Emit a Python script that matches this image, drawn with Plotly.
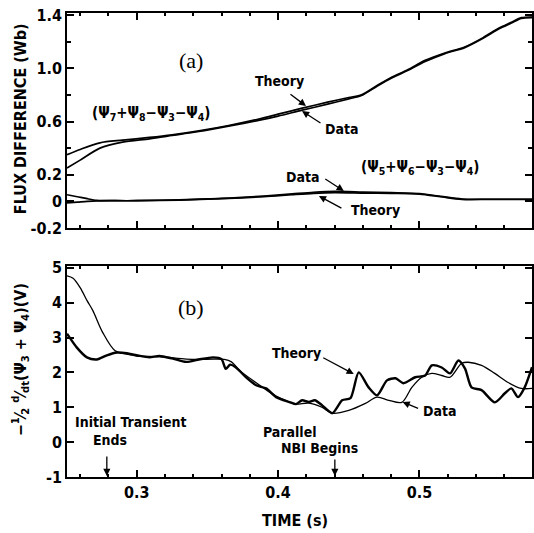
import plotly.graph_objects as go

# ---------------- data ----------------
# panel (a): (Psi7+Psi8-Psi3-Psi4)
t_a = [0.2507, 0.26, 0.274, 0.29, 0.309, 0.325, 0.344, 0.365, 0.387, 0.40, 0.417,
       0.435, 0.45, 0.459, 0.47, 0.480, 0.492, 0.504, 0.518, 0.532, 0.545, 0.556,
       0.565, 0.572, 0.5796]
theory_a = [0.35, 0.39, 0.44, 0.46, 0.48, 0.50, 0.53, 0.57, 0.62, 0.655, 0.70,
            0.745, 0.78, 0.80, 0.87, 0.93, 0.99, 1.06, 1.115, 1.16, 1.23, 1.30,
            1.345, 1.38, 1.385]
data_a = [0.25, 0.31, 0.40, 0.445, 0.47, 0.495, 0.525, 0.565, 0.61, 0.64, 0.685,
          0.73, 0.77, 0.795, 0.865, 0.925, 0.985, 1.05, 1.11, 1.155, 1.225, 1.295,
          1.34, 1.375, 1.38]

# panel (a): (Psi5+Psi6-Psi3-Psi4)
t_b = [0.2507, 0.258, 0.265, 0.272, 0.285, 0.30, 0.33, 0.36, 0.39, 0.41, 0.425,
       0.44, 0.46, 0.48, 0.50, 0.515, 0.53, 0.55, 0.5796]
theory_b = [-0.012, -0.006, 0.0, 0.004, 0.005, 0.005, 0.01, 0.02, 0.035, 0.05, 0.06,
            0.065, 0.062, 0.06, 0.055, 0.035, 0.015, 0.015, 0.015]
data_b = [0.05, 0.035, 0.02, 0.008, 0.005, 0.005, 0.012, 0.022, 0.04, 0.056, 0.068,
          0.075, 0.07, 0.065, 0.058, 0.038, 0.018, 0.016, 0.016]

# panel (b): -1/2 d/dt (Psi3+Psi4)
t_th = [0.2507, 0.2577, 0.2648, 0.2718, 0.2789, 0.286, 0.293, 0.300, 0.309, 0.316,
        0.325, 0.335, 0.344, 0.354, 0.360, 0.363, 0.366, 0.370, 0.377, 0.3845,
        0.3915, 0.3986, 0.408, 0.4127, 0.417, 0.4218, 0.426, 0.431, 0.4383,
        0.4453, 0.4512, 0.457, 0.464, 0.470, 0.477, 0.483, 0.4887, 0.497, 0.504,
        0.5087, 0.5157, 0.5216, 0.5275, 0.5322, 0.5368, 0.5439, 0.5533, 0.5604,
        0.565, 0.5697, 0.5744, 0.5796]
v_th = [3.11, 2.71, 2.43, 2.37, 2.49, 2.57, 2.55, 2.49, 2.43, 2.47,
        2.40, 2.30, 2.37, 2.43, 2.38, 2.1, 2.22, 2.15, 1.87, 1.63,
        1.54, 1.29, 1.15, 1.09, 1.2, 1.15, 1.2, 1.06, 0.83,
        1.2, 1.26, 2.0, 1.57, 1.34, 1.77, 1.83, 1.69, 1.86, 1.91,
        2.2, 2.14, 1.97, 2.34, 2.11, 1.57, 1.49, 1.14, 1.40,
        1.54, 1.29, 1.57, 2.15]

t_d = [0.2507, 0.255, 0.26, 0.265, 0.269, 0.276, 0.2845, 0.293, 0.300, 0.316,
       0.335, 0.344, 0.354, 0.362, 0.367, 0.373, 0.3845, 0.3915, 0.3986, 0.408,
       0.4127, 0.4218, 0.431, 0.4383, 0.450, 0.4617, 0.470, 0.4782, 0.4875,
       0.4946, 0.5016, 0.5087, 0.5157, 0.5216, 0.5298, 0.5345, 0.5439, 0.5533,
       0.5627, 0.572, 0.5796]
v_d = [4.77, 4.7, 4.43, 4.05, 3.77, 3.14, 2.63, 2.52, 2.47, 2.45,
       2.38, 2.37, 2.38, 2.37, 2.3, 2.05, 1.7, 1.5, 1.32, 1.15,
       1.09, 1.12, 1.0, 0.83, 0.91, 1.11, 1.29, 1.2, 1.14,
       1.57, 1.86, 1.97, 1.91, 1.86, 2.26, 2.29, 2.2, 1.97,
       1.71, 1.54, 1.54]

x_ticks = [0.3, 0.4, 0.5]
x_ticktext = ["0.3", "0.4", "0.5"]
ya_ticks = [-0.2, 0, 0.2, 0.6, 1.0, 1.4]
ya_ticktext = ["-0.2", "0", "0.2", "0.6", "1.0", "1.4"]
yb_ticks = [-1, 0, 1, 2, 3, 4, 5]
yb_ticktext = ["-1", "0", "1", "2", "3", "4", "5"]

# ---------------- figure ----------------
W, H = 534, 533
L, R, T, B = 67, 0, 13, 56
PW, PH = W - L - R, H - T - B
FONT = "DejaVu Sans Condensed, DejaVu Sans, sans-serif"


def P(px, py):
    return (px - L) / PW, (H - B - py) / PH


fig = go.Figure()
line_kw = dict(mode="lines", line_shape="spline", showlegend=False, hoverinfo="skip")
fig.add_trace(go.Scatter(x=t_a, y=theory_a, xaxis="x2", yaxis="y2",
                         line=dict(color="black", width=1.7, smoothing=0.8), **line_kw))
fig.add_trace(go.Scatter(x=t_a, y=data_a, xaxis="x2", yaxis="y2",
                         line=dict(color="black", width=1.7, smoothing=0.8), **line_kw))
fig.add_trace(go.Scatter(x=t_b, y=theory_b, xaxis="x2", yaxis="y2",
                         line=dict(color="black", width=1.7, smoothing=0.8), **line_kw))
fig.add_trace(go.Scatter(x=t_b, y=data_b, xaxis="x2", yaxis="y2",
                         line=dict(color="black", width=1.7, smoothing=0.8), **line_kw))
fig.add_trace(go.Scatter(x=t_d, y=v_d, xaxis="x", yaxis="y",
                         line=dict(color="black", width=1.3, smoothing=0.9), **line_kw))
fig.add_trace(go.Scatter(x=t_th, y=v_th, xaxis="x", yaxis="y",
                         line=dict(color="black", width=2.4, smoothing=0.7), **line_kw))

xr = [0.3 + (L - 137) / 1420, 0.3 + (W - R - 137) / 1420]
ax_common = dict(showline=True, linecolor="black", linewidth=1.6, mirror="ticks",
                 ticks="inside", ticklen=7, tickwidth=1.5, tickcolor="black",
                 showgrid=False, zeroline=False,
                 tickfont=dict(family=FONT, size=16, color="black", weight="bold"))
top_dom = [(H - B - 228) / PH, 1.0]
bot_dom = [0.0, (H - B - 266) / PH]

fig.update_layout(
    width=W, height=H, margin=dict(l=L, r=R, t=T, b=B),
    paper_bgcolor="white", plot_bgcolor="white",
    xaxis=dict(domain=[0, 1], range=xr, tickvals=x_ticks, ticktext=x_ticktext,
               minor=dict(tick0=0.3, dtick=0.02, ticklen=3, ticks="inside",
                          tickcolor="black"), anchor="y", **ax_common),
    yaxis=dict(domain=bot_dom, range=[-1, 5.05], tickvals=yb_ticks,
               ticktext=yb_ticktext, anchor="x", **ax_common),
    xaxis2=dict(domain=[0, 1], range=xr, tickvals=x_ticks, showticklabels=False,
                minor=dict(tick0=0.3, dtick=0.02, ticklen=3, ticks="inside",
                           tickcolor="black"), anchor="y2", **ax_common),
    yaxis2=dict(domain=top_dom, range=[-0.2, 1.415], tickvals=ya_ticks,
                ticktext=ya_ticktext, anchor="x2",
                minor=dict(tickvals=[0.4, 0.8, 1.2], ticklen=4, ticks="inside",
                           tickcolor="black"), **ax_common),
)

ann = []


def text(s, px, py, size=14, family=FONT, angle=0, weight="bold"):
    x, y = P(px, py)
    ann.append(dict(text=s, x=x, y=y, xref="paper", yref="paper", showarrow=False,
                    xanchor="center", yanchor="middle", textangle=angle,
                    font=dict(family=family, size=size, color="black", weight=weight)))


def arrow(x0, y0, x1, y1):
    x, y = P(x1, y1)
    ann.append(dict(text="", x=x, y=y, xref="paper", yref="paper", showarrow=True,
                    ax=x0 - x1, ay=y0 - y1, arrowhead=2, arrowsize=1.1,
                    arrowwidth=1.3, arrowcolor="black"))


SERIF = "Liberation Serif, Times New Roman, serif"
text("(a)", 192, 61, size=22, family=SERIF, weight="normal")
text("(b)", 192, 307, size=22, family=SERIF, weight="normal")
text("(Ψ<sub>7</sub>+Ψ<sub>8</sub>−Ψ<sub>3</sub>−Ψ<sub>4</sub>)", 151, 113, size=15)
text("(Ψ<sub>5</sub>+Ψ<sub>6</sub>−Ψ<sub>3</sub>−Ψ<sub>4</sub>)", 422, 167, size=15)
text("Theory", 280, 81)
text("Data", 343, 129)
text("Data", 304, 177)
text("Theory", 377, 210)
text("Theory", 297, 353)
text("Data", 441, 411)
text("Initial Transient", 131, 422)
text("Ends", 110, 440)
text("Parallel", 291, 432)
text("NBI Begins", 321, 448)
text("TIME (s)", 296, 520, size=16)
text("FLUX DIFFERENCE (Wb)", 20, 119, size=16, angle=-90)
text("−<sup>1</sup>⁄<sub>2</sub> <sup>d</sup>⁄<sub>dt</sub>(Ψ<sub>3</sub> + Ψ<sub>4</sub>)(V)",
     20, 360, size=16, angle=-90)

arrow(290, 93, 307, 106)
arrow(323, 124, 303, 111)
arrow(325, 178, 345, 191)
arrow(344, 209, 320, 196)
arrow(323, 357, 355, 374)
arrow(421, 409, 404, 402)
arrow(107, 455, 107, 476)
arrow(336, 458, 336, 476)

fig.update_layout(annotations=ann)
fig.write_html("out.html")
